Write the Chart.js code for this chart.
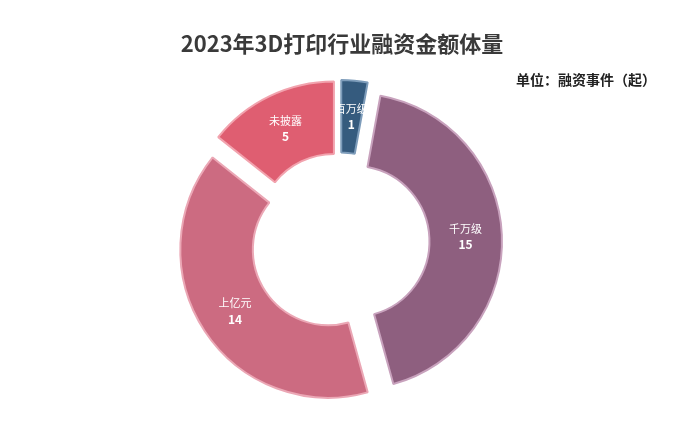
<!DOCTYPE html>
<html>
<head>
<meta charset="utf-8">
<script src="https://cdn.jsdelivr.net/npm/chart.js@4"></script>
<style>
  html, body { margin: 0; padding: 0; background: #fff; }
  #wrap { width: 700px; height: 433px; position: relative; }
</style>
</head>
<body>
<div id="wrap"><canvas id="fundingChart"></canvas></div>
<script>
// chart data
const categories = ['百万级', '千万级', '上亿元', '未披露'];
const eventCounts = [1, 15, 14, 5];

const sliceColors = ['#355b7e', '#8e5f7f', '#cc6b81', '#df5e71'];
const sliceBorders = ['#7d9cba', '#c8a2bd', '#eba7b5', '#f2a3ae'];

const FONT = '"Noto Sans CJK SC", "Noto Sans", sans-serif';
const EXPLODE = 14; // px each slice is pushed out along its middle angle

function midAngle(arc) {
    return (arc.startAngle + arc.endAngle) / 2;
}

// draw every slice shifted outwards (plain translation, keeps the gaps parallel)
const explodePlugin = {
    id: 'explodePlugin',
    beforeDatasetsDraw(chart) {
        const ctx = chart.ctx;
        const meta = chart.getDatasetMeta(0);
        meta.data.forEach(function(arc) {
            const a = midAngle(arc);
            ctx.save();
            ctx.translate(Math.cos(a) * EXPLODE, Math.sin(a) * EXPLODE);
            arc.draw(ctx, chart.chartArea);
            ctx.restore();
        });
        return false;
    }
};

// title, unit note and the labels inside each slice
const textPlugin = {
    id: 'textPlugin',
    afterDraw(chart) {
        const ctx = chart.ctx;
        ctx.save();
        ctx.textBaseline = 'middle';

        ctx.fillStyle = '#3a3a3a';
        ctx.textAlign = 'center';
        ctx.font = 'bold 22px ' + FONT;
        ctx.fillText('2023年3D打印行业融资金额体量', 342, 44);

        ctx.fillStyle = '#222';
        ctx.textAlign = 'right';
        ctx.font = 'bold 14px ' + FONT;
        ctx.fillText('单位：融资事件（起）', 656, 80);

        const meta = chart.getDatasetMeta(0);
        ctx.textAlign = 'center';
        ctx.fillStyle = '#fff';
        meta.data.forEach(function(arc, i) {
            const a = midAngle(arc);
            const r = (arc.innerRadius + arc.outerRadius) / 2 + EXPLODE;
            const x = arc.x + Math.cos(a) * r;
            const y = arc.y + Math.sin(a) * r;
            ctx.font = '11px ' + FONT;
            ctx.fillText(categories[i], x, y - 8);
            ctx.font = 'bold 12px ' + FONT;
            ctx.fillText(String(eventCounts[i]), x, y + 8);
        });
        ctx.restore();
    }
};

new Chart(document.getElementById('fundingChart'), {
    type: 'doughnut',
    data: {
        labels: categories,
        datasets: [{
            data: eventCounts,
            backgroundColor: sliceColors,
            borderColor: sliceBorders,
            borderWidth: 2
        }]
    },
    options: {
        responsive: true,
        maintainAspectRatio: false,
        animation: false,
        cutout: '51%',
        layout: {
            padding: { left: 191, right: 211, top: 93, bottom: 42 }
        },
        plugins: {
            legend: { display: false },
            tooltip: { enabled: false }
        }
    },
    plugins: [explodePlugin, textPlugin]
});
</script>
</body>
</html>
